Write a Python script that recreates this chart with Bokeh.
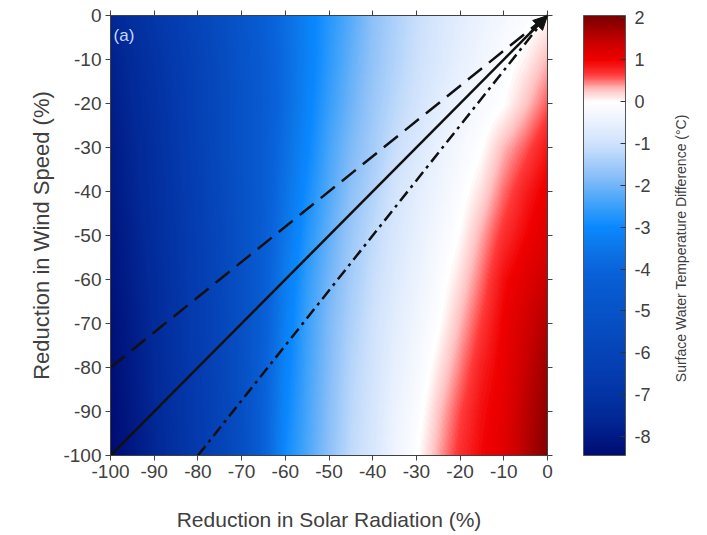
import numpy as np
from bokeh.plotting import figure
from bokeh.layouts import row
from bokeh.models import (LinearColorMapper, ColorBar, FixedTicker, LinearAxis,
                          Label, Arrow, NormalHead, Range1d)
from bokeh.embed import file_html
from bokeh.resources import INLINE

# ---------------- data ----------------
solar_reduction = [-100, -95, -90, -85, -80, -75, -70, -65, -60, -55, -50,
                   -45, -40, -35, -30, -25, -20, -15, -10, -5, 0]
wind_reduction = [0, -10, -20, -30, -40, -50, -60, -70, -80, -90, -100]

# surface water temperature difference (degC); one row per wind_reduction value
dT_w0 =   [-7.6, -7.2, -6.8, -6.4, -5.95, -5.45, -4.9, -4.3, -3.75, -3.2, -2.7, -2.25, -1.75, -1.4, -1.1, -0.85, -0.65, -0.45, -0.28, -0.12, 0.0]
dT_w10 =  [-7.8, -7.4, -7.0, -6.55, -6.1, -5.6, -5.0, -4.4, -3.8, -3.2, -2.65, -2.15, -1.7, -1.35, -1.05, -0.8, -0.55, -0.35, -0.12, 0.05, 0.3]
dT_w20 =  [-7.9, -7.5, -7.1, -6.65, -6.15, -5.65, -5.05, -4.45, -3.8, -3.15, -2.55, -2.05, -1.6, -1.25, -0.95, -0.65, -0.4, -0.2, -0.03, 0.25, 0.55]
dT_w30 =  [-8.0, -7.6, -7.2, -6.7, -6.2, -5.65, -5.05, -4.4, -3.7, -3.05, -2.4, -1.9, -1.5, -1.1, -0.8, -0.5, -0.25, -0.03, 0.3, 0.55, 0.85]
dT_w40 =  [-8.05, -7.65, -7.25, -6.8, -6.3, -5.75, -5.1, -4.4, -3.6, -2.9, -2.3, -1.75, -1.35, -0.95, -0.65, -0.38, -0.12, 0.15, 0.5, 0.8, 1.05]
dT_w50 =  [-8.15, -7.75, -7.3, -6.85, -6.35, -5.8, -5.15, -4.35, -3.5, -2.75, -2.15, -1.6, -1.2, -0.85, -0.55, -0.25, 0.0, 0.35, 0.7, 0.95, 1.2]
dT_w60 =  [-8.2, -7.8, -7.4, -6.9, -6.4, -5.85, -5.2, -4.3, -3.35, -2.6, -2.0, -1.5, -1.1, -0.75, -0.45, -0.15, 0.15, 0.5, 0.9, 1.15, 1.4]
dT_w70 =  [-8.3, -7.9, -7.45, -6.95, -6.45, -5.9, -5.2, -4.25, -3.25, -2.5, -1.9, -1.4, -1.0, -0.65, -0.35, -0.05, 0.3, 0.65, 1.0, 1.3, 1.6]
dT_w80 =  [-8.35, -7.95, -7.5, -7.0, -6.5, -5.95, -5.25, -4.2, -3.15, -2.45, -1.85, -1.3, -0.95, -0.55, -0.25, 0.1, 0.45, 0.8, 1.05, 1.4, 1.75]
dT_w90 =  [-8.4, -8.0, -7.55, -7.05, -6.55, -6.0, -5.3, -4.15, -3.05, -2.4, -1.8, -1.25, -0.9, -0.45, -0.15, 0.25, 0.6, 0.9, 1.1, 1.5, 1.85]
dT_w100 = [-8.45, -8.05, -7.6, -7.1, -6.6, -6.05, -5.35, -4.15, -2.95, -2.35, -1.75, -1.2, -0.85, -0.4, -0.05, 0.35, 0.7, 0.95, 1.15, 1.55, 1.95]

# reference lines (start and end points)
line_x = [-100, 0]
solid_y = [-100, 0]
dashed_y = [-80, 0]
dashdot_x = [-80, 0]
dashdot_y = [-100, 0]

cbar_ticks = [-8, -7, -6, -5, -4, -3, -2, -1, 0, 1, 2]
x_ticks = [-100, -90, -80, -70, -60, -50, -40, -30, -20, -10, 0]
y_ticks = [0, -10, -20, -30, -40, -50, -60, -70, -80, -90, -100]

# ---------------- colour map (style) ----------------
stops = [(-8.45, "#000c74"), (-7.5, "#022a98"), (-6.5, "#043cb0"), (-5.5, "#064cc0"),
         (-4.5, "#085ad0"), (-4.0, "#0a64dc"), (-3.5, "#0c76e8"), (-3.0, "#0a88ff"),
         (-2.5, "#3aa0fa"), (-1.8, "#88bef8"), (-1.0, "#cfe2fc"), (-0.4, "#eef4fe"),
         (0.0, "#ffffff"), (0.3, "#ffc0c0"), (0.65, "#ff3a3a"), (1.0, "#f00000"),
         (1.4, "#cc0000"), (2.05, "#7a0000")]
lo, hi = stops[0][0], stops[-1][0]
sv = np.array([s[0] for s in stops])
rgb = np.array([[int(c[i:i + 2], 16) for i in (1, 3, 5)] for _, c in stops], float)
vals = np.linspace(lo, hi, 256)
palette = ["#%02x%02x%02x" % tuple(int(round(np.interp(v, sv, rgb[:, k]))) for k in range(3))
           for v in vals]
mapper = LinearColorMapper(palette=palette, low=lo, high=hi)

# ---------------- smooth shading of the table for display ----------------
table = np.array([dT_w0, dT_w10, dT_w20, dT_w30, dT_w40, dT_w50, dT_w60,
                  dT_w70, dT_w80, dT_w90, dT_w100])
xs = np.array(solar_reduction, float)
ys = np.array(wind_reduction, float)[::-1]
tab = table[::-1]  # row 0 -> y=-100
fx = np.linspace(-100, 0, 437)
fy = np.linspace(-100, 0, 440)
rows = np.array([np.interp(fx, xs, r) for r in tab])
shaded = np.array([np.interp(fy, ys, rows[:, j]) for j in range(len(fx))]).T

# ---------------- main figure ----------------
FONT = "Liberation Sans"
TXT = "#404040"
p = figure(width=660, height=533,
           x_range=Range1d(-100, 0), y_range=Range1d(-100, 0),
           output_backend="svg", toolbar_location=None,
           min_border_left=110, min_border_top=15, min_border_bottom=78,
           min_border_right=113)
p.grid.visible = False
p.outline_line_color = "#404040"
p.background_fill_color = "white"

p.image(image=[shaded], x=-100, y=-100, dw=100, dh=100, color_mapper=mapper)

p.line(line_x, solid_y, line_color="#111111", line_width=2.5)
p.line(line_x, dashed_y, line_color="#111111", line_width=2.5, line_dash="18 9")
p.line(dashdot_x, dashdot_y, line_color="#111111", line_width=2.5, line_dash="12 5 3 5")
p.add_layout(Arrow(end=NormalHead(size=14, fill_color="#111111", line_color="#111111"),
                   x_start=line_x[-1] - 4, y_start=solid_y[-1] - 4,
                   x_end=line_x[-1], y_end=solid_y[-1],
                   line_color="#111111", line_width=2.5))

for ax, ticks in ((p.xaxis[0], x_ticks), (p.yaxis[0], y_ticks)):
    ax.ticker = FixedTicker(ticks=ticks)
    ax.major_label_overrides = {t: str(t) for t in ticks}
    ax.axis_line_color = TXT
    ax.major_tick_line_color = TXT
    ax.major_tick_out = 5
    ax.major_tick_in = 0
    ax.minor_tick_line_color = None
    ax.major_label_text_font = FONT
    ax.major_label_text_font_size = "19px"
    ax.major_label_text_color = TXT
    ax.axis_label_text_font = FONT
    ax.axis_label_text_font_style = "normal"
    ax.axis_label_text_color = TXT

p.xaxis.axis_label = "Reduction in Solar Radiation (%)"
p.yaxis.axis_label = "Reduction in Wind Speed (%)"
p.xaxis.axis_label_text_font_size = "21px"
p.yaxis.axis_label_text_font_size = "22px"
p.xaxis.major_label_standoff = 4
p.xaxis.axis_label_standoff = 27
p.yaxis.major_label_standoff = 4
p.yaxis.axis_label_standoff = 6

for side, ticks in (("above", x_ticks), ("right", y_ticks)):
    a = LinearAxis(ticker=FixedTicker(ticks=ticks), axis_line_color=TXT,
                   major_tick_line_color=TXT, major_tick_out=5, major_tick_in=0,
                   minor_tick_line_color=None,
                   major_label_overrides={t: "" for t in ticks},
                   major_label_standoff=0)
    p.add_layout(a, side)

cb = ColorBar(color_mapper=mapper, ticker=FixedTicker(ticks=cbar_ticks),
              major_label_overrides={t: str(t) for t in cbar_ticks},
              width=42, height=440, padding=0, margin=0, location=(473, 0),
              bar_line_color="#555555", major_tick_line_color="#333333",
              major_tick_in=5, major_tick_out=0, minor_tick_line_color=None,
              major_label_text_font=FONT, major_label_text_font_size="18px",
              major_label_text_color=TXT, label_standoff=9,
              background_fill_alpha=0, border_line_color=None)
p.add_layout(cb)

p.add_layout(Label(x=-99.3, y=-2.3, text="(a)", text_align="left",
                   text_baseline="top", text_font=FONT, text_font_size="17px",
                   text_color="#c8d8ff"))

# ---------------- narrow strip carrying the colour-bar title ----------------
t = figure(width=45, height=533, x_range=Range1d(0, 45), y_range=Range1d(0, 533),
           output_backend="svg", toolbar_location=None,
           x_axis_location=None, y_axis_location=None,
           min_border_left=0, min_border_right=0, min_border_top=0, min_border_bottom=0)
t.grid.visible = False
t.outline_line_color = None
t.add_layout(Label(x=20, y=251, text="Surface Water Temperature Difference (°C)",
                   angle=np.pi / 2, text_align="center", text_baseline="middle",
                   text_font=FONT, text_font_size="14px", text_color=TXT))

open("out.html", "w").write(file_html(row(p, t), INLINE))
